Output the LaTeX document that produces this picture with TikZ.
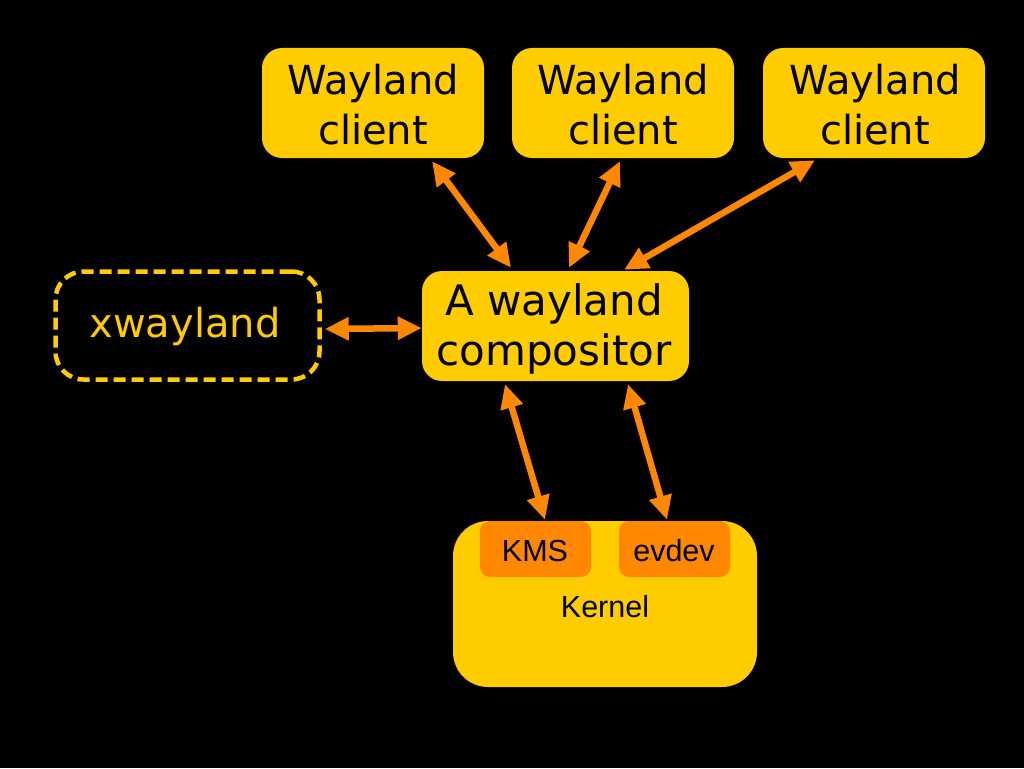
\documentclass[tikz,border=0pt]{standalone}
\usepackage{fontspec}
\newfontfamily\dejavu{DejaVu Sans}
\newfontfamily\libsans{Liberation Sans}
\usetikzlibrary{arrows.meta,calc}
\definecolor{wyellow}{HTML}{FFCC00}
\definecolor{worange}{HTML}{FF8800}
\tikzset{
  bigbox/.style={fill=wyellow, rounded corners=20pt, minimum width=222pt, minimum height=110pt,
    inner sep=0pt, align=center, font=\dejavu\fontsize{40}{50}\selectfont, text=black},
  subbox/.style={fill=worange, rounded corners=10pt, minimum width=111pt, minimum height=56pt,
    inner sep=0pt, font=\libsans\fontsize{30.5}{36}\selectfont, text=black},
  link/.style={draw=worange, line width=6.5pt, {Triangle[length=24pt,width=22pt]}-{Triangle[length=24pt,width=22pt]}},
}
\begin{document}
\begin{tikzpicture}[x=1pt,y=-1pt]
\fill[black] (0,0) rectangle (1024,768);
\useasboundingbox (0,0) rectangle (1024,768);
\node[bigbox] (c1) at (373,103) {};
\node[bigbox] (c2) at (623,103) {};
\node[bigbox] (c3) at (874,103) {};
\node[bigbox, minimum width=267pt] (comp) at (555.5,326) {};
\node[align=center, font=\dejavu\fontsize{40}{50}\selectfont, text=black] (t1) at (373,105) {Wayland\\client};
\node[align=center, font=\dejavu\fontsize{40}{50}\selectfont, text=black] (t2) at (623,105) {Wayland\\client};
\node[align=center, font=\dejavu\fontsize{40}{50}\selectfont, text=black] (t3) at (875,105) {Wayland\\client};
\node[align=center, font=\dejavu\fontsize{42}{50}\selectfont, text=black] (tc) at (554,329) {A wayland\\compositor};
\node[draw=wyellow, dashed, dash pattern=on 12pt off 6pt, line width=4.5pt, rounded corners=28pt,
  minimum width=264pt, minimum height=108pt, inner sep=0pt] (xw) at (187.5,325.5) {};
\node[font=\dejavu\fontsize{40}{50}\selectfont, text=wyellow] (txw) at (185,326) {xwayland};
\node[fill=wyellow, rounded corners=35pt, minimum width=304pt, minimum height=166pt, inner sep=0pt] (kern) at (605,604) {};
\node[font=\libsans\fontsize{30.5}{36}\selectfont, text=black] (ktext) at (605,607) {Kernel};
\node[subbox] (kms) at (535.5,549) {};
\node[subbox] (ev) at (674.5,549) {};
\node[font=\libsans\fontsize{30.5}{36}\selectfont, text=black] (tkms) at (535,551) {KMS};
\node[font=\libsans\fontsize{30.5}{36}\selectfont, text=black] (tev) at (674,551) {evdev};
\draw[link] ($(c1.south)+(59,3)$) -- ($(comp.north)+(-44.5,-3)$);
\draw[link] ($(c2.south)+(-3,3)$) -- ($(comp.north)+(13.5,-3)$);
\draw[link] ($(c3.south)+(-59,2)$) -- ($(comp.north)+(68.5,-1)$);
\draw[link] ($(xw.east)+(3,3.5)$) -- ($(comp.west)+(0,2)$);
\draw[link] ($(comp.south)+(-50.5,3)$) -- ($(kms.north)+(9.5,-1)$);
\draw[link] ($(comp.south)+(72.5,3)$) -- ($(ev.north)+(-7.5,-1)$);
\end{tikzpicture}
\end{document}
